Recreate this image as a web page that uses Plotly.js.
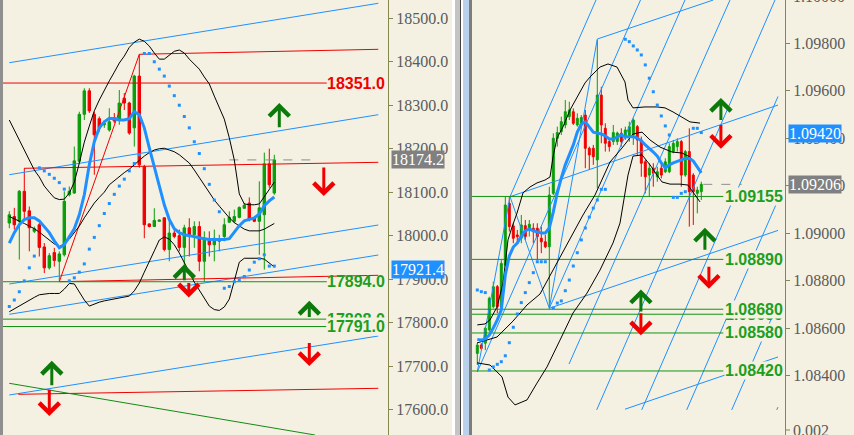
<!DOCTYPE html>
<html><head><meta charset="utf-8">
<script src="https://cdn.plot.ly/plotly-3.0.1.min.js"></script>
<style>html,body{margin:0;padding:0;background:#F4F1E3;}#chart{width:854px;height:435px;}</style>
</head><body><div id="chart"></div>
<script>
// ---------------- LEFT PANEL (index) ----------------
const L_OPEN=[18029,18044,18033,18102,18057,18010,18025,17974,17926,17961,17941,17956,18094,18098,18171,18279,18333,18279,18269,18255,18243,18271,18266,18316,18305,18248,18367,18159,18027,18021,18033,18041,17968,18006,18000,17973,18018,18002,18021,17941,17989,17979,17987,17998,18031,18033,18042,18063,18075,18041,18033,18048,18165,18098];
const L_HIGH=[18056,18064,18105,18155,18067,18021,18029,17983,17960,17972,17964,18102,18113,18205,18285,18339,18339,18285,18274,18266,18293,18282,18335,18328,18308,18370,18417,18163,18028,18063,18037,18042,18033,18017,18014,18025,18040,18033,18033,18010,18010,18014,18002,18040,18056,18060,18067,18075,18088,18043,18125,18191,18200,18186];
const L_LOW=[18017,18014,17945,18033,17964,18006,17952,17914,17922,17929,17896,17952,18090,18096,18167,18266,18282,18140,18239,18248,18239,18259,18255,18289,18232,18205,18156,17994,18019,18020,18032,17964,17941,17994,17964,17910,17952,17972,17918,17895,17952,17941,17964,17987,18029,18029,18040,18062,18033,18031,17956,17922,18110,18094];
const L_CLOSE=[18048,18025,18102,18056,18018,18016,17973,17926,17954,17943,17958,18079,18102,18172,18279,18333,18287,18232,18247,18258,18262,18264,18305,18305,18236,18367,18163,18025,18021,18035,18036,17968,18006,17998,17973,18018,18002,18021,17941,17994,17979,17994,17993,18025,18042,18044,18065,18070,18037,18033,18064,18165,18117,18174.2];
const L_MA=[17983,18007,18025,18037,18041,18041,18034,18020,18007,17988,17972,17979,17997,18016,18048,18094,18163,18216,18248,18262,18270,18269,18266,18266,18269,18285,18278,18248,18202,18156,18112,18071,18037,18016,18007,18002,18000,17997,17995,17993,17991,17991,17991,17991,17993,18009,18023,18034,18037,18041,18050,18069,18080,18089];
const L_BB_UP=[18266,18243,18222,18197,18174,18151,18135,18114,18100,18087,18083,18084,18098,18123,18167,18215,18252,18287,18312,18335,18356,18376,18397,18413,18433,18445,18452,18447,18436,18420,18406,18406,18414,18424,18427,18420,18406,18395,18383,18365,18349,18321,18296,18268,18225,18174,18096,18073,18071,18071,18073,18089,18105,18123];
const L_BB_MID=[18044,18039,18034,18028,18022,18016,18008,17999,17990,17981,17975,17981,17992,18008,18022,18041,18059,18075,18088,18100,18117,18127,18136,18145,18153,18163,18174,18183,18191,18197,18200,18201,18197,18193,18186,18176,18167,18151,18133,18117,18098,18082,18068,18054,18041,18030,18022,18015,18011,18011,18011,18015,18021,18028];
const L_BB_LOW=[17825,17832,17839,17846,17852,17858,17864,17866,17867,17867,17867,17877,17890,17889,17870,17852,17838,17843,17847,17850,17852,17854,17857,17859,17861,17873,17891,17916,17939,17965,17990,17997,17992,17979,17960,17939,17916,17893,17875,17854,17838,17830,17828,17836,17854,17896,17939,17948,17948,17948,17948,17946,17937,17928];
const L_SAR=[17837,17852,17871,17896,17926,17953,18156,18149,18141,18132,18122,18107,17896,17903,17916,17935,17969,17996,18023,18051,18074,18095,18114,18130,18149,18166,18186,18419,18419,18400,18383,18367,18344,18322,18300,18274,18248,18216,18189,18154,18118,18082,18055,17879,17883,17894,17898,17906,17921,17939,17947,17956,17930,17930];
const L_TICKS=[17600,17700,17800,17900,18000,18100,18200,18300,18400,18500];
const L_BLUE_LINES=[[0,18397.8,73.8,18534.4],[0,18140.2,73.8,18278.2],[0,17888.8,73.8,18024.5],[0,17819.1,73.8,17955.5],[0,17633.5,73.8,17769.2]];
const L_RED_LINES=[[26,18417.1,73.8,18428.6],[2.94,18154.9,73.8,18168.7],[10,17894.1,73.8,17908.8],[1.8,17635.1,73.8,17648.9],[10,17894.1,26,18417.1]];
const L_GREEN_SLOPE=[[0,17660.4,61.14,17541.5]];
const L_RED_LEVEL=18351.0;
const L_GREEN_LEVELS=[17894.0,17808.0,17791.0];
const L_LEVEL_END=63.5;
const L_BID=18174.2, L_BID_FROM=44, L_BID_TO=62;
const L_BLUE_PRICE=17921.4;
const L_ARROWS=[[54,18305,18248,'up'],[62.9,18091,18158,'down'],[35,17934,17896,'up'],[35.9,17858,17892,'down'],[60,17850,17812,'up'],[60,17700,17754,'down'],[8.5,17712,17655,'up'],[8,17585,17647,'down']];

// ---------------- RIGHT PANEL ----------------
const R_OPEN=[1.08494,1.08529,1.08537,1.08593,1.08691,1.08775,1.08691,1.08866,1.09126,1.09031,1.08993,1.08979,1.09032,1.09021,1.09021,1.09021,1.08979,1.08964,1.08943,1.09168,1.09400,1.09428,1.09456,1.09491,1.09512,1.09456,1.09456,1.09498,1.09358,1.09358,1.09309,1.09582,1.09442,1.09386,1.09386,1.09386,1.09421,1.09407,1.09407,1.09414,1.09449,1.09393,1.09301,1.09245,1.09274,1.09238,1.09274,1.09259,1.09259,1.09344,1.09365,1.09386,1.09245,1.09344,1.09245,1.09168,1.09175];
const R_HIGH=[1.08538,1.08537,1.08606,1.08733,1.08796,1.08782,1.08887,1.09154,1.09154,1.09042,1.09014,1.09077,1.09056,1.09056,1.09042,1.09042,1.09028,1.08993,1.09196,1.09421,1.09449,1.09491,1.09561,1.09554,1.09526,1.09505,1.09498,1.09519,1.09365,1.09372,1.09814,1.09617,1.09463,1.09400,1.09456,1.09428,1.09442,1.09449,1.09470,1.09484,1.09456,1.09407,1.09309,1.09295,1.09295,1.09280,1.09301,1.09316,1.09379,1.09393,1.09400,1.09393,1.09351,1.09442,1.09253,1.09196,1.09217];
const R_LOW=[1.08445,1.08508,1.08508,1.08585,1.08684,1.08663,1.08677,1.08859,1.09007,1.08958,1.08958,1.08958,1.08972,1.08986,1.08958,1.08887,1.08916,1.08937,1.08684,1.09161,1.09365,1.09414,1.09442,1.09477,1.09456,1.09449,1.09442,1.09274,1.09266,1.09288,1.09189,1.09379,1.09344,1.09344,1.09372,1.09372,1.09365,1.09393,1.09386,1.09372,1.09330,1.09238,1.09168,1.09154,1.09196,1.09217,1.09231,1.09253,1.09253,1.09337,1.09344,1.09196,1.09238,1.09028,1.09035,1.09084,1.09140];
const R_CLOSE=[1.08529,1.08515,1.08600,1.08726,1.08775,1.08691,1.08873,1.09119,1.09028,1.08979,1.08986,1.09035,1.08986,1.09038,1.09007,1.08986,1.08964,1.08943,1.09161,1.09400,1.09424,1.09470,1.09512,1.09519,1.09463,1.09484,1.09488,1.09358,1.09330,1.09322,1.09582,1.09456,1.09379,1.09365,1.09424,1.09422,1.09386,1.09435,1.09449,1.09477,1.09393,1.09295,1.09238,1.09274,1.09253,1.09259,1.09245,1.09301,1.09365,1.09379,1.09386,1.09245,1.09344,1.09175,1.09175,1.09182,1.09206];
const R_MA=[1.08553,1.08550,1.08555,1.08571,1.08601,1.08635,1.08677,1.08824,1.08904,1.08942,1.08959,1.08988,1.09010,1.09018,1.09010,1.09005,1.09001,1.09001,1.09022,1.09090,1.09170,1.09233,1.09288,1.09330,1.09372,1.09426,1.09460,1.09469,1.09448,1.09426,1.09422,1.09418,1.09410,1.09397,1.09397,1.09405,1.09414,1.09405,1.09405,1.09407,1.09401,1.09389,1.09372,1.09359,1.09342,1.09325,1.09296,1.09275,1.09288,1.09296,1.09304,1.09309,1.09315,1.09316,1.09304,1.09279,1.09254];
const R_BB_UP_X=[0,1.925,3.175,4.925,6.425,7.675,8.675,9.925,11.425,13.175,14.925,16.925,18.175,18.925,19.925,21.425,23.175,24.925,26.925,28.175,30.675,32.675,34.925,36.925,37.675,38.925,41.925,44.925,46.925,48.925,51.175,53.175,55.675];
const R_BB_UP=[1.08614,1.08618,1.08635,1.08689,1.08790,1.08972,1.09026,1.09085,1.09170,1.09195,1.09212,1.09224,1.09237,1.09321,1.09401,1.09448,1.09519,1.09574,1.09633,1.09658,1.09700,1.09713,1.09700,1.09637,1.09561,1.09528,1.09532,1.09532,1.09528,1.09511,1.09490,1.09469,1.09464];
const R_BB_MID_X=[-0.075,4.925,8.925,12.425,15.675,18.175,20.675,23.175,26.425,29.425,33.175,36.175,38.925,41.175,43.175,45.675,48.675,51.175,53.175,55.675];
const R_BB_MID=[1.08538,1.08563,1.08630,1.08698,1.08744,1.08820,1.08896,1.08972,1.09077,1.09161,1.09300,1.09359,1.09418,1.09426,1.09393,1.09363,1.09342,1.09338,1.09321,1.09258];
const R_BB_LOW_X=[-0.075,3.175,6.175,7.675,9.425,12.425,14.925,17.425,20.675,23.925,27.425,30.675,33.925,35.675,37.675,38.925,41.175,43.175,44.925,46.175,48.175,50.675,52.675,54.925,55.675];
const R_BB_LOW=[1.08454,1.08445,1.08395,1.08310,1.08277,1.08298,1.08369,1.08437,1.08550,1.08664,1.08748,1.08845,1.08959,1.09043,1.09245,1.09325,1.09330,1.09288,1.09245,1.09216,1.09207,1.09207,1.09203,1.09153,1.09132];
const R_SAR_X=[0,1,2,3,4,5,6,7,8,9,10,11,12,13,14,15,16,17,19,20,21,22,23,24,25,26,27,28,29,30,31,32,37,38,39,40,41,42,43,44,45,46,47,48,49,50,51,52,54,55,56];
const R_SAR=[1.08761,1.08754,1.08750,1.08424,1.08437,1.08448,1.08459,1.08484,1.08539,1.08604,1.08660,1.08708,1.08750,1.08792,1.08834,1.08880,1.08880,1.08880,1.08685,1.08706,1.08715,1.08758,1.08803,1.08862,1.08918,1.08972,1.09022,1.09068,1.09106,1.09140,1.09185,1.09185,1.09817,1.09807,1.09789,1.09772,1.09751,1.09709,1.09653,1.09596,1.09540,1.09494,1.09452,1.09414,1.09151,1.09151,1.09168,1.09175,1.09442,1.09442,1.09424];
const R_TICKS=[1.084,1.086,1.088,1.090,1.092,1.094,1.096,1.098];
const R_ZIGZAG_X=[0,8.175,18,30], R_ZIGZAG=[1.08416,1.09154,1.08684,1.09818];
const R_FORK_LINES=[[8.175,1.09154,29.675,1.099824],[0,1.08416,40.8,1.099824],[18,1.08684,51.925,1.099824],[22.925,1.08449,63.175,1.099824],[29.85,1.08256,74.425,1.099824],[41.1,1.08256,75.175,1.09576],[52.35,1.08256,75.175,1.09140],[63.6,1.08256,75.175,1.08704],[74.85,1.08256,75.175,1.08268]];
const R_FORK2_LINES=[[8.175,1.09154,75.175,1.09540],[18,1.08684,75.175,1.09012],[30,1.09818,59,1.099824],[36.925,1.08259,75.175,1.08479]];
const R_GREEN_LEVELS=[1.08659,1.09155,1.08890,1.08680,1.08580,1.08420];
const R_LEVEL_END=61.5;
const R_BID=1.09206, R_BID_FROM=56.5, R_BID_TO=66.1;
const R_BLUE_PRICE=1.09420;
const R_ARROWS=[[60.9,1.09570,1.09475,'up'],[60.9,1.09356,1.09458,'down'],[56.9,1.09023,1.08928,'up'],[57.9,1.08766,1.08861,'down'],[40.9,1.08763,1.08668,'up'],[40.9,1.08570,1.08665,'down']];

// ---------------- styles ----------------
const CREAM='#F4F1E3', GREEN_C='#0A9E0A', RED_C='#F00000', BLUE='#1E90FF', OLIVE='#86864F';
const LVL_LINE='#139313', LVL_TXT='#1E9E1E', ARROW_G='#0B7A0B', ARROW_R='#F00000';
const TICK_FONT={family:'Liberation Serif, serif',size:16,color:'#5b5b5b'};
const LBL_FONT=(c)=>({family:'Liberation Sans, Arial, sans-serif',size:16,color:c,weight:700});

function segs(list){const x=[],y=[];list.forEach(s=>{x.push(s[0],s[2],null);y.push(s[1],s[3],null);});return {x,y};}
function lineTrace(list,color,w,xa,ya,dash){const s=segs(list);return {type:'scatter',mode:'lines',x:s.x,y:s.y,xaxis:xa,yaxis:ya,line:{color:color,width:w,dash:dash||'solid'},hoverinfo:'skip'};}
function levelTrace(levels,x0,x1,color,xa,ya){return lineTrace(levels.map(v=>[x0,v,x1,v]),color,1,xa,ya);}

const traces=[];
function panel(p){
  const idx=p.open.map((_,i)=>i);
  traces.push(lineTrace(p.blue,BLUE,1,p.xa,p.ya));
  if(p.red) traces.push(lineTrace(p.red,RED_C,1,p.xa,p.ya));
  if(p.greenSlope) traces.push(lineTrace(p.greenSlope,'#138A13',1,p.xa,p.ya));
  traces.push(levelTrace(p.levels,-1.5,p.levelEnd,LVL_LINE,p.xa,p.ya));
  if(p.redLevel!==undefined) traces.push(levelTrace([p.redLevel],-1.5,p.levelEnd,RED_C,p.xa,p.ya));
  traces.push(lineTrace([[p.bidFrom,p.bid,p.bidTo,p.bid]],'#8c8c8c',1,p.xa,p.ya,'dash'));
  traces.push({type:'candlestick',x:idx,open:p.open,high:p.high,low:p.low,close:p.close,xaxis:p.xa,yaxis:p.ya,
    increasing:{line:{color:GREEN_C,width:1},fillcolor:GREEN_C},decreasing:{line:{color:RED_C,width:1},fillcolor:RED_C},
    whiskerwidth:0,hoverinfo:'skip'});
  p.bb.forEach(b=>traces.push({type:'scatter',mode:'lines',x:b[0],y:b[1],xaxis:p.xa,yaxis:p.ya,line:{color:'#000000',width:1},hoverinfo:'skip'}));
  traces.push({type:'scatter',mode:'markers',x:p.sarX,y:p.sar,xaxis:p.xa,yaxis:p.ya,marker:{symbol:'square',size:3,color:BLUE,line:{width:0}},hoverinfo:'skip'});
  traces.push({type:'scatter',mode:'lines',x:idx,y:p.ma,xaxis:p.xa,yaxis:p.ya,line:{color:BLUE,width:3},hoverinfo:'skip'});
}
const lIdx=L_OPEN.map((_,i)=>i);
panel({xa:'x',ya:'y',open:L_OPEN,high:L_HIGH,low:L_LOW,close:L_CLOSE,ma:L_MA,
  bb:[[lIdx,L_BB_UP],[lIdx,L_BB_MID],[lIdx,L_BB_LOW]],sarX:lIdx,sar:L_SAR,
  blue:L_BLUE_LINES,red:L_RED_LINES,greenSlope:L_GREEN_SLOPE,levels:L_GREEN_LEVELS,redLevel:L_RED_LEVEL,levelEnd:L_LEVEL_END,
  bid:L_BID,bidFrom:L_BID_FROM,bidTo:L_BID_TO});
const zz=[];for(let i=0;i<R_ZIGZAG_X.length-1;i++)zz.push([R_ZIGZAG_X[i],R_ZIGZAG[i],R_ZIGZAG_X[i+1],R_ZIGZAG[i+1]]);
panel({xa:'x2',ya:'y2',open:R_OPEN,high:R_HIGH,low:R_LOW,close:R_CLOSE,ma:R_MA,
  bb:[[R_BB_UP_X,R_BB_UP],[R_BB_MID_X,R_BB_MID],[R_BB_LOW_X,R_BB_LOW]],sarX:R_SAR_X,sar:R_SAR,
  blue:zz.concat(R_FORK_LINES,R_FORK2_LINES),levels:R_GREEN_LEVELS,levelEnd:R_LEVEL_END,
  bid:R_BID,bidFrom:R_BID_FROM,bidTo:R_BID_TO});

// ---------------- annotations ----------------
const ann=[];
function arrows(list,xa,ya){list.forEach(a=>{ann.push({x:a[0],y:a[1],ax:a[0],ay:a[2],xref:xa,yref:ya,axref:xa,ayref:ya,text:'',showarrow:true,
  font:{size:1},borderpad:0,standoff:0,
  arrowhead:4,arrowsize:1.3,arrowwidth:3,arrowcolor:a[3]==='up'?ARROW_G:ARROW_R});});}
arrows(L_ARROWS,'x','y');arrows(R_ARROWS,'x2','y2');
function label(text,xPx,y,yref,color,bg){ann.push({x:xPx/854,xref:'paper',xanchor:'right',y:y,yref:yref,yanchor:'middle',text:text,showarrow:false,
  font:LBL_FONT(color),bgcolor:bg||'rgba(0,0,0,0)',borderpad:0});}
label(L_RED_LEVEL.toFixed(1),386,L_RED_LEVEL,'y',RED_C);
L_GREEN_LEVELS.forEach((v,i)=>label(v.toFixed(1),386,v,'y',LVL_TXT,i>0?CREAM:null));
R_GREEN_LEVELS.forEach((v,i)=>label(v.toFixed(5),784,v,'y2',LVL_TXT,i>0?CREAM:null));
function box(text,xPx,y,yref,bg){ann.push({x:xPx/854,xref:'paper',xanchor:'left',y:y,yref:yref,yanchor:'middle',text:text,showarrow:false,
  font:{family:TICK_FONT.family,size:16,color:'#ffffff'},bgcolor:bg,borderpad:0});}
box(L_BID.toFixed(1),391,L_BID,'y','#808080');
box(L_BLUE_PRICE.toFixed(1),391,L_BLUE_PRICE,'y',BLUE);
box(R_BID.toFixed(5),788,R_BID,'y2','#808080');
box(R_BLUE_PRICE.toFixed(5),788,R_BLUE_PRICE,'y2',BLUE);
ann.push({x:791/854,xref:'paper',xanchor:'left',y:1+4/435,yref:'paper',yanchor:'middle',text:'1.10000',showarrow:false,font:TICK_FONT});
ann.push({x:791/854,xref:'paper',xanchor:'left',y:1-430/435,yref:'paper',yanchor:'middle',text:'0.002',showarrow:false,font:TICK_FONT});

// ---------------- frame shapes ----------------
const P=(px)=>px/854, Q=(py)=>1-py/435;
const shapes=[
 {type:'rect',xref:'paper',yref:'paper',x0:0,x1:P(3),y0:0,y1:1,fillcolor:'#8f8f8f',line:{width:0}},
 {type:'rect',xref:'paper',yref:'paper',x0:P(452),x1:P(455),y0:0,y1:1,fillcolor:'#ffffff',line:{width:0}},
 {type:'rect',xref:'paper',yref:'paper',x0:P(455),x1:P(460),y0:0,y1:1,fillcolor:'#c4c4c4',line:{width:0}},
 {type:'rect',xref:'paper',yref:'paper',x0:P(460),x1:P(461),y0:0,y1:1,fillcolor:'#404040',line:{width:0}},
 {type:'rect',xref:'paper',yref:'paper',x0:P(461),x1:P(463),y0:0,y1:1,fillcolor:'#ffffff',line:{width:0}},
 {type:'rect',xref:'paper',yref:'paper',x0:P(463),x1:P(469),y0:0,y1:1,fillcolor:'#b9d1ea',line:{width:0}},
 {type:'rect',xref:'paper',yref:'paper',x0:P(469),x1:P(472),y0:0,y1:1,fillcolor:'#7d7d7d',line:{width:0}},
 {type:'line',xref:'paper',yref:'paper',x0:P(785.5),x1:P(785.5),y0:0,y1:Q(410),line:{color:OLIVE,width:1}},
 {type:'line',xref:'paper',yref:'paper',x0:P(785.5),x1:P(790),y0:Q(430),y1:Q(430),line:{color:OLIVE,width:1}}
];

const yax={side:'right',showgrid:false,zeroline:false,showline:true,linecolor:OLIVE,linewidth:1,ticks:'outside',ticklen:4,tickcolor:OLIVE,tickfont:TICK_FONT,fixedrange:true};
const layout={width:854,height:435,margin:{l:0,r:0,t:0,b:0},paper_bgcolor:CREAM,plot_bgcolor:CREAM,showlegend:false,
  xaxis:{domain:[P(3),P(388)],range:[-1.26,75.74],visible:false,rangeslider:{visible:false},fixedrange:true},
  yaxis:Object.assign({},yax,{anchor:'x',domain:[0,1],range:[17541.5,18542],tickvals:L_TICKS,tickformat:'.1f'}),
  xaxis2:{domain:[P(472),P(785)],range:[-1.325,76.925],visible:false,rangeslider:{visible:false},fixedrange:true},
  yaxis2:Object.assign({},yax,{anchor:'x2',domain:[25/435,1],range:[1.082556,1.099824],tickvals:R_TICKS,tickformat:'.5f'}),
  annotations:ann,shapes:shapes,hovermode:false};
Plotly.newPlot('chart',traces,layout,{displayModeBar:false,staticPlot:true});
</script></body></html>
